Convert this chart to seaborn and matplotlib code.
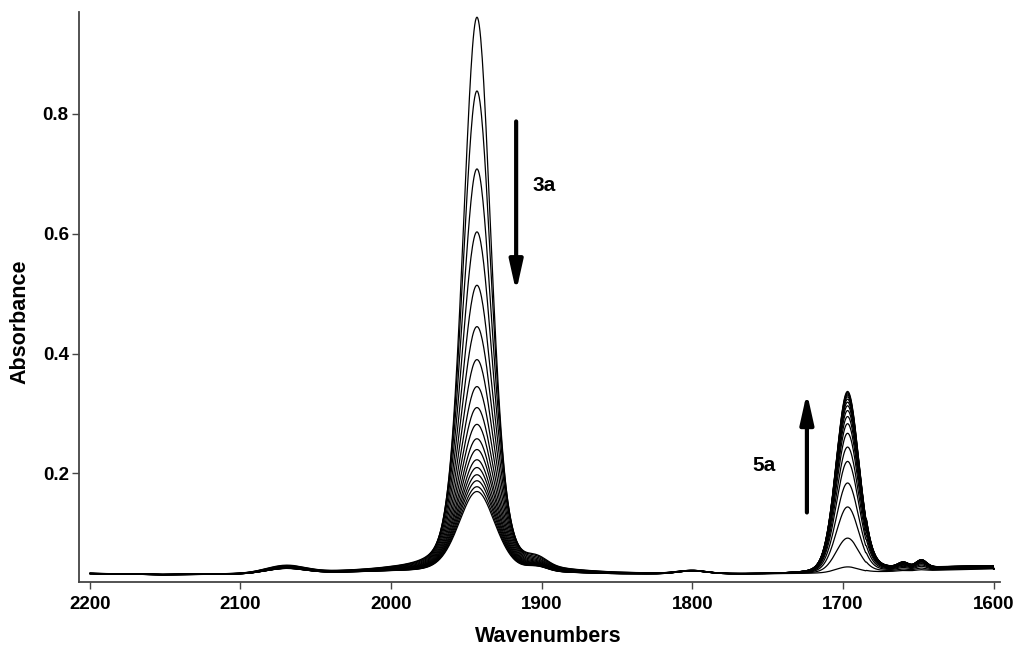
import numpy as np
import pandas as pd
import matplotlib
matplotlib.use("Agg")
import matplotlib.pyplot as plt
import seaborn as sns

peak_3a_pos = 1943.0
peak_3a_heights = [0.960, 0.837, 0.707, 0.602, 0.513, 0.444, 0.389, 0.344, 0.309,
                   0.281, 0.257, 0.239, 0.222, 0.209, 0.197, 0.187, 0.177, 0.169]
peak_5a_pos = 1697.0
peak_5a_heights = [0.044, 0.092, 0.144, 0.184, 0.220, 0.244, 0.267, 0.283, 0.295,
                   0.305, 0.313, 0.319, 0.324, 0.328, 0.331, 0.333, 0.335, 0.337]

# weak bands: position, height above baseline, fwhm
minor_bands_pos = [2070, 1903, 1800, 1660, 1648]
minor_bands_height = [0.012, 0.012, 0.005, 0.008, 0.012]
minor_bands_fwhm = [30, 16, 22, 8, 8]

# baseline read at a few wavenumbers
baseline_x = [2200, 2150, 2100, 2000, 1900, 1850, 1750, 1720, 1690, 1600]
baseline_y = [0.033, 0.031, 0.032, 0.036, 0.034, 0.032, 0.032, 0.033, 0.034, 0.040]

wavenumber = np.linspace(2200, 1600, 1201)


def pvoigt(x, x0, fwhm, eta):
    g = np.exp(-4 * np.log(2) * ((x - x0) / fwhm) ** 2)
    l = 1.0 / (1.0 + 4 * ((x - x0) / fwhm) ** 2)
    return eta * l + (1 - eta) * g


base = np.interp(wavenumber[::-1], baseline_x[::-1], baseline_y[::-1])[::-1]
rows = []
for i, (h3, h5) in enumerate(zip(peak_3a_heights, peak_5a_heights)):
    f3 = h3 / peak_3a_heights[0]
    f5 = h5 / peak_5a_heights[-1]
    y = base.copy()
    y += (h3 - 0.034) * pvoigt(wavenumber, peak_3a_pos, 22 + 8 * (1 - f3), 0.28)
    y += (h5 - 0.034) * pvoigt(wavenumber, peak_5a_pos, 18, 0.15)
    scale = [0.6 + 0.4 * f3, 0.5 + 0.5 * f3, 1.0, f5, f5]
    for p, hh, w, s in zip(minor_bands_pos, minor_bands_height, minor_bands_fwhm, scale):
        y += hh * s * pvoigt(wavenumber, p, w, 0.0)
    y += 0.006 * f5 * (wavenumber < 1685) * (wavenumber > 1600)
    rows.append(pd.DataFrame({"Wavenumbers": wavenumber, "Absorbance": y, "scan": i}))
df = pd.concat(rows, ignore_index=True)

sns.set_style("ticks")
plt.rcParams['font.family'] = ['Liberation Sans', 'DejaVu Sans']
plt.rcParams['text.color'] = 'black'
plt.rcParams['axes.labelcolor'] = 'black'

fig, ax = plt.subplots(figsize=(10.16, 6.46), dpi=100)
sns.lineplot(data=df, x="Wavenumbers", y="Absorbance", units="scan", estimator=None,
             color="black", linewidth=0.9, ax=ax, legend=False)

ax.set_xlim(2207, 1596)
ax.set_ylim(0.019, 0.969)
ax.set_xticks([2200, 2100, 2000, 1900, 1800, 1700, 1600])
ax.set_yticks([0.2, 0.4, 0.6, 0.8])
ax.tick_params(labelsize=13.5, width=1, length=5, color="#444444", labelcolor="black")
ax.tick_params(axis="x", pad=5)
ax.tick_params(axis="y", pad=2.5)
for t in ax.get_xticklabels() + ax.get_yticklabels():
    t.set_fontweight("bold")
ax.set_xlabel("Wavenumbers", fontsize=15.5, fontweight="bold")
ax.set_ylabel("Absorbance", fontsize=15.5, fontweight="bold")
ax.xaxis.set_label_coords(0.51, -0.077)
ax.yaxis.set_label_coords(-0.053, 0.456)
sns.despine(ax=ax)
for s in ["left", "bottom"]:
    ax.spines[s].set_color("#444444")
    ax.spines[s].set_linewidth(1.3)

arrow = dict(arrowstyle="-|>,head_width=0.4,head_length=1.8", color="black", lw=3,
             shrinkA=0, shrinkB=0)
ax.annotate("", xy=(1917, 0.503), xytext=(1917, 0.787), arrowprops=arrow)
ax.text(1906, 0.681, "3a", fontsize=15, fontweight="bold", va="center", ha="left")
ax.annotate("", xy=(1724, 0.335), xytext=(1724, 0.135), arrowprops=arrow)
ax.text(1745, 0.213, "5a", fontsize=15, fontweight="bold", va="center", ha="right")

fig.subplots_adjust(left=0.078, right=0.984, top=0.981, bottom=0.099)
fig.savefig("out.png", dpi=100)
